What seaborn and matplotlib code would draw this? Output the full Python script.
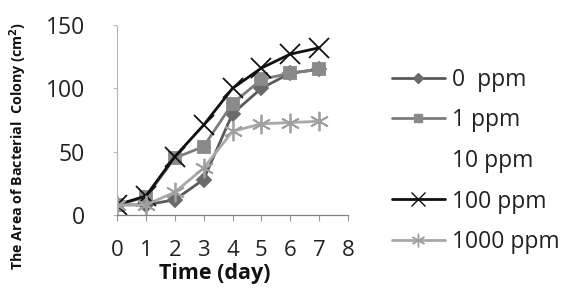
import matplotlib
matplotlib.use("Agg")
import matplotlib.pyplot as plt
from matplotlib.lines import Line2D
import seaborn as sns
import pandas as pd

days = [0, 1, 2, 3, 4, 5, 6, 7]
ppm_0 = [8, 8, 12, 28, 80, 100, 112, 115]
ppm_1 = [8, 14, 45, 54, 88, 107, 112, 115]
ppm_100 = [8, 15, 46, 71, 100, 116, 127, 132]
ppm_1000 = [8, 8, 18, 37, 66, 72, 73, 74]
labels = ["0  ppm", "1 ppm", "10 ppm", "100 ppm", "1000 ppm"]
x_ticks = [0, 1, 2, 3, 4, 5, 6, 7, 8]
y_ticks = [0, 50, 100, 150]

sns.set_theme(style="white")
plt.rcParams['font.family'] = ['Open Sans', 'DejaVu Sans']

fig = plt.figure(figsize=(5.61, 2.98), dpi=100)
ax = fig.add_axes([117/561, 1-215/298, (348-117)/561, (215-25)/298])

series = [
    (ppm_0, labels[0], "#5a5a5a", "D", 7, "#6a6a6a"),
    (ppm_1, labels[1], "#7c7c7c", "s", 9, "#8a8a8a"),
    (ppm_100, labels[3], "#111111", "x", 14, "#111111"),
    (ppm_1000, labels[4], "#a8a8a8", (6, 2, 0), 14, "#a0a0a0"),
]
handles = {}
for vals, lab, col, mk, ms, mc in series:
    df = pd.DataFrame({"day": days, "area": vals})
    sns.lineplot(data=df, x="day", y="area", ax=ax, color=col, linewidth=2.0,
                 marker=mk, markersize=ms, markerfacecolor=mc, markeredgecolor=mc,
                 markeredgewidth=1.3, legend=False)
    handles[lab] = Line2D([], [], color=col, linewidth=2.0, marker=mk,
                          markersize=ms * 0.7, markerfacecolor=mc, markeredgecolor=mc)
handles[labels[2]] = Line2D([], [], color="white", alpha=0, linewidth=2.0)

ax.set_xlim(0, 8)
ax.set_ylim(0, 150)
ax.set_xticks(x_ticks)
ax.set_yticks(y_ticks)
ax.set_xticklabels([str(t) for t in x_ticks], fontsize=16, color="#222222")
ax.set_yticklabels([str(t) for t in y_ticks], fontsize=16.5, color="#222222")
for s in ["top", "right"]:
    ax.spines[s].set_visible(False)
ax.spines["left"].set_color("#b5b5b5")
ax.spines["left"].set_linestyle((0, (2, 1)))
ax.spines["left"].set_linewidth(0.8)
ax.spines["bottom"].set_color("#8a8080")
ax.spines["bottom"].set_linewidth(0.9)
ax.tick_params(axis="x", direction="out", length=4, width=0.8, color="#999999", pad=14, bottom=True)
ax.tick_params(axis="y", direction="out", length=3, width=0.8, color="#bbbbbb", pad=20, left=True)
ax.set_xlabel("")
ax.set_ylabel("")

fig.text(215/561, 1-274/298, "Time (day)", fontsize=15.5, fontweight="bold",
         ha="center", va="center", color="#111111")
fig.text(18/561, 1-146/298, "The Area of Bacterial  Colony (cm$^\\mathbf{2}$)", fontsize=10.3,
         fontweight="bold", rotation=90, ha="center", va="center", color="#111111")

fig.legend([handles[l] for l in labels], labels, loc="upper left",
           bbox_to_anchor=(392/561, 1-68/298), frameon=False, fontsize=16.5,
           handlelength=2.3, handletextpad=0.3, labelspacing=0.72, borderpad=0,
           borderaxespad=0, labelcolor="#222222")

fig.savefig("out.png", dpi=100)
